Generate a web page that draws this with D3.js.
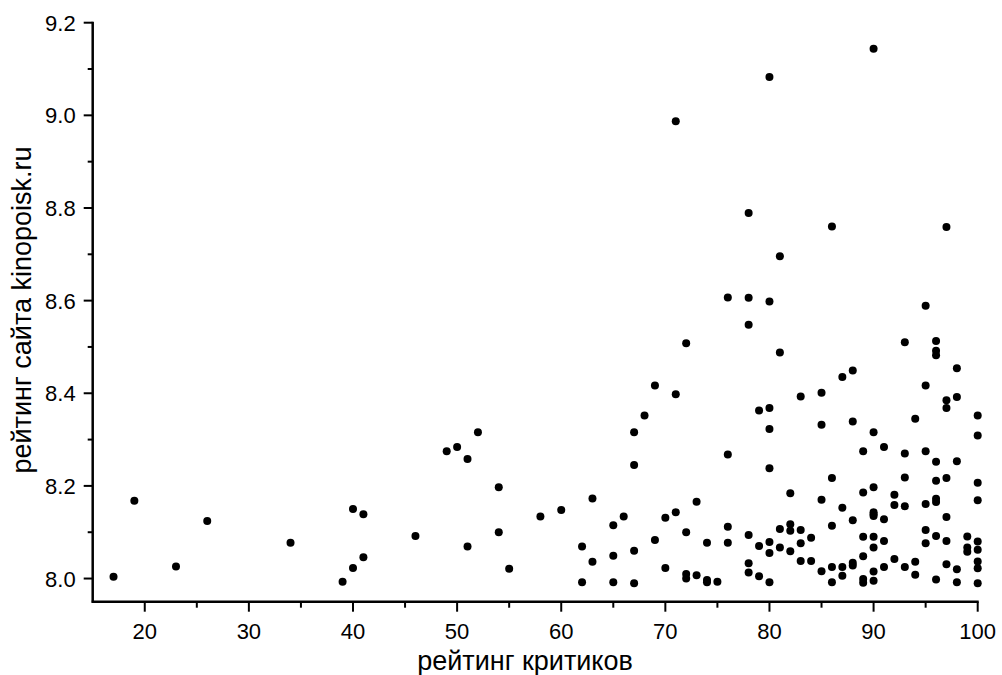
<!DOCTYPE html>
<html>
<head>
<meta charset="utf-8">
<script src="https://cdn.jsdelivr.net/npm/d3@7"></script>
<style>
  body { margin: 0; background: #fff; }
  svg { display: block; font-family: "Liberation Sans", Arial, sans-serif; }
</style>
</head>
<body>
<div id="chart"></div>
<script>
// рейтинг критиков (x) и рейтинг kinopoisk.ru (y), по точкам
var critics = [
  17, 19, 23, 26, 34, 39, 40, 40, 41, 41, 46, 49, 50, 51, 51, 52, 54, 54, 55, 58, 60,
  62, 62, 63, 63, 65, 65, 65, 66, 67, 67, 67, 67, 68, 69, 69, 70, 70, 71, 71, 71,
  72, 72, 72, 72, 73, 73, 74, 74, 74, 75, 76, 76, 76, 76,
  78, 78, 78, 78, 78, 78, 79, 79, 79,
  80, 80, 80, 80, 80, 80, 80, 80, 81, 81, 81, 81, 82, 82, 82, 82,
  83, 83, 83, 83, 84, 84, 85, 85, 85, 85, 86, 86, 86, 86, 86,
  87, 87, 87, 87, 88, 88, 88, 88, 88,
  89, 89, 89, 89, 89, 89, 90, 90, 90, 90, 90, 90, 90, 90, 90, 90,
  91, 91, 91, 91, 92, 92, 92, 93, 93, 93, 93, 93, 94, 94, 94,
  95, 95, 95, 95, 95, 95, 96, 96, 96, 96, 96, 96, 96, 96, 96,
  97, 97, 97, 97, 97, 97, 97, 98, 98, 98, 98, 98, 99, 99, 99,
  100, 100, 100, 100, 100, 100, 100, 100, 100
];
var kinopoisk = [
  8.004, 8.168, 8.026, 8.124, 8.077, 7.993, 8.023, 8.150, 8.139, 8.046, 8.092, 8.275, 8.284, 8.258, 8.069, 8.316, 8.197, 8.100, 8.021, 8.134, 8.148,
  8.069, 7.992, 8.173, 8.036, 8.115, 8.049, 7.992, 8.134, 8.316, 8.245, 8.060, 7.990, 8.352, 8.417, 8.083, 8.131, 8.023, 8.987, 8.398, 8.143,
  8.508, 8.100, 8.010, 8.000, 8.166, 8.007, 8.077, 7.997, 7.992, 7.993, 8.607, 8.268, 8.112, 8.077,
  8.789, 8.606, 8.548, 8.094, 8.033, 8.013, 8.363, 8.070, 8.005,
  9.083, 8.598, 8.368, 8.323, 8.238, 8.079, 8.055, 7.992, 8.696, 8.488, 8.107, 8.067, 8.184, 8.117, 8.103, 8.059,
  8.393, 8.105, 8.076, 8.038, 8.088, 8.038, 8.401, 8.332, 8.170, 8.016, 8.760, 8.217, 8.114, 8.025, 7.992,
  8.435, 8.153, 8.025, 8.006, 8.449, 8.339, 8.126, 8.034, 8.028,
  8.275, 8.186, 8.090, 8.048, 7.999, 7.991, 9.144, 8.316, 8.197, 8.143, 8.135, 8.090, 8.067, 8.015, 7.995, 8.139,
  8.284, 8.128, 8.081, 8.025, 8.181, 8.159, 8.042, 8.510, 8.270, 8.218, 8.156, 8.025, 8.345, 8.036, 8.008,
  8.589, 8.417, 8.275, 8.161, 8.105, 8.076, 8.513, 8.492, 8.482, 8.252, 8.211, 8.172, 8.165, 8.092, 7.998,
  8.759, 8.385, 8.368, 8.217, 8.133, 8.081, 8.031, 8.454, 8.392, 8.253, 8.020, 7.992, 8.091, 8.067, 8.058,
  8.352, 8.309, 8.207, 8.169, 8.080, 8.062, 8.037, 8.022, 7.990
];
var xTicks = [20, 30, 40, 50, 60, 70, 80, 90, 100];
var yTicks = [8.0, 8.2, 8.4, 8.6, 8.8, 9.0, 9.2];

function drawChart(){
    var W = 1002, H = 675;
    var m = {left: 92.7, right: 977.7, top: 22.7, bottom: 601.7};

    var svg = d3.select('#chart').append('svg')
        .attr('width', W)
        .attr('height', H);

    var x = d3.scaleLinear().domain([15, 100]).range([m.left, m.right]);
    var y = d3.scaleLinear().domain([7.95, 9.2]).range([m.bottom, m.top]);

    var points = critics.map(function(c, i){ return {x: c, y: kinopoisk[i]}; });

    svg.append('g').selectAll('circle').data(points).enter().append('circle')
        .attr('cx', function(d){ return x(d.x); })
        .attr('cy', function(d){ return y(d.y); })
        .attr('r', 4)
        .style('fill', '#000');

    // minor ticks
    var xMinor = d3.range(25, 100, 10);
    var yMinor = [8.1, 8.3, 8.5, 8.7, 8.9, 9.1];

    var xAxis = svg.append('g').attr('transform', 'translate(0,' + m.bottom + ')');
    xAxis.selectAll('line.minor').data(xMinor).enter().append('line')
        .attr('x1', function(d){ return x(d); }).attr('x2', function(d){ return x(d); })
        .attr('y1', 0).attr('y2', 6)
        .style('stroke', '#000').style('stroke-width', 2);
    xAxis.selectAll('line.major').data(xTicks).enter().append('line')
        .attr('x1', function(d){ return x(d); }).attr('x2', function(d){ return x(d); })
        .attr('y1', 0).attr('y2', 10)
        .style('stroke', '#000').style('stroke-width', 2);
    xAxis.selectAll('text').data(xTicks).enter().append('text')
        .attr('x', function(d){ return x(d); })
        .attr('y', 37)
        .attr('text-anchor', 'middle')
        .style('font-size', '22px')
        .text(function(d){ return d; });
    xAxis.append('line')
        .attr('x1', m.left - 1).attr('x2', m.right + 1)
        .style('stroke', '#000').style('stroke-width', 2.5);

    var yAxis = svg.append('g').attr('transform', 'translate(' + m.left + ',0)');
    yAxis.selectAll('line.minor').data(yMinor).enter().append('line')
        .attr('y1', function(d){ return y(d); }).attr('y2', function(d){ return y(d); })
        .attr('x1', 0).attr('x2', -5)
        .style('stroke', '#000').style('stroke-width', 2);
    yAxis.selectAll('line.major').data(yTicks).enter().append('line')
        .attr('y1', function(d){ return y(d); }).attr('y2', function(d){ return y(d); })
        .attr('x1', 0).attr('x2', -9)
        .style('stroke', '#000').style('stroke-width', 2);
    yAxis.selectAll('text').data(yTicks).enter().append('text')
        .attr('x', -17)
        .attr('y', function(d){ return y(d) + 8; })
        .attr('text-anchor', 'end')
        .style('font-size', '22px')
        .text(function(d){ return d.toFixed(1); });
    yAxis.append('line')
        .attr('y1', m.top - 1).attr('y2', m.bottom + 1)
        .style('stroke', '#000').style('stroke-width', 2.5);

    // axis titles
    svg.append('text')
        .attr('x', 525).attr('y', 670)
        .attr('text-anchor', 'middle')
        .style('font-size', '27px')
        .text('рейтинг критиков');
    svg.append('text')
        .attr('transform', 'translate(31,310) rotate(-90)')
        .attr('text-anchor', 'middle')
        .style('font-size', '27px')
        .text('рейтинг сайта kinopoisk.ru');
}
drawChart();
</script>
</body>
</html>
